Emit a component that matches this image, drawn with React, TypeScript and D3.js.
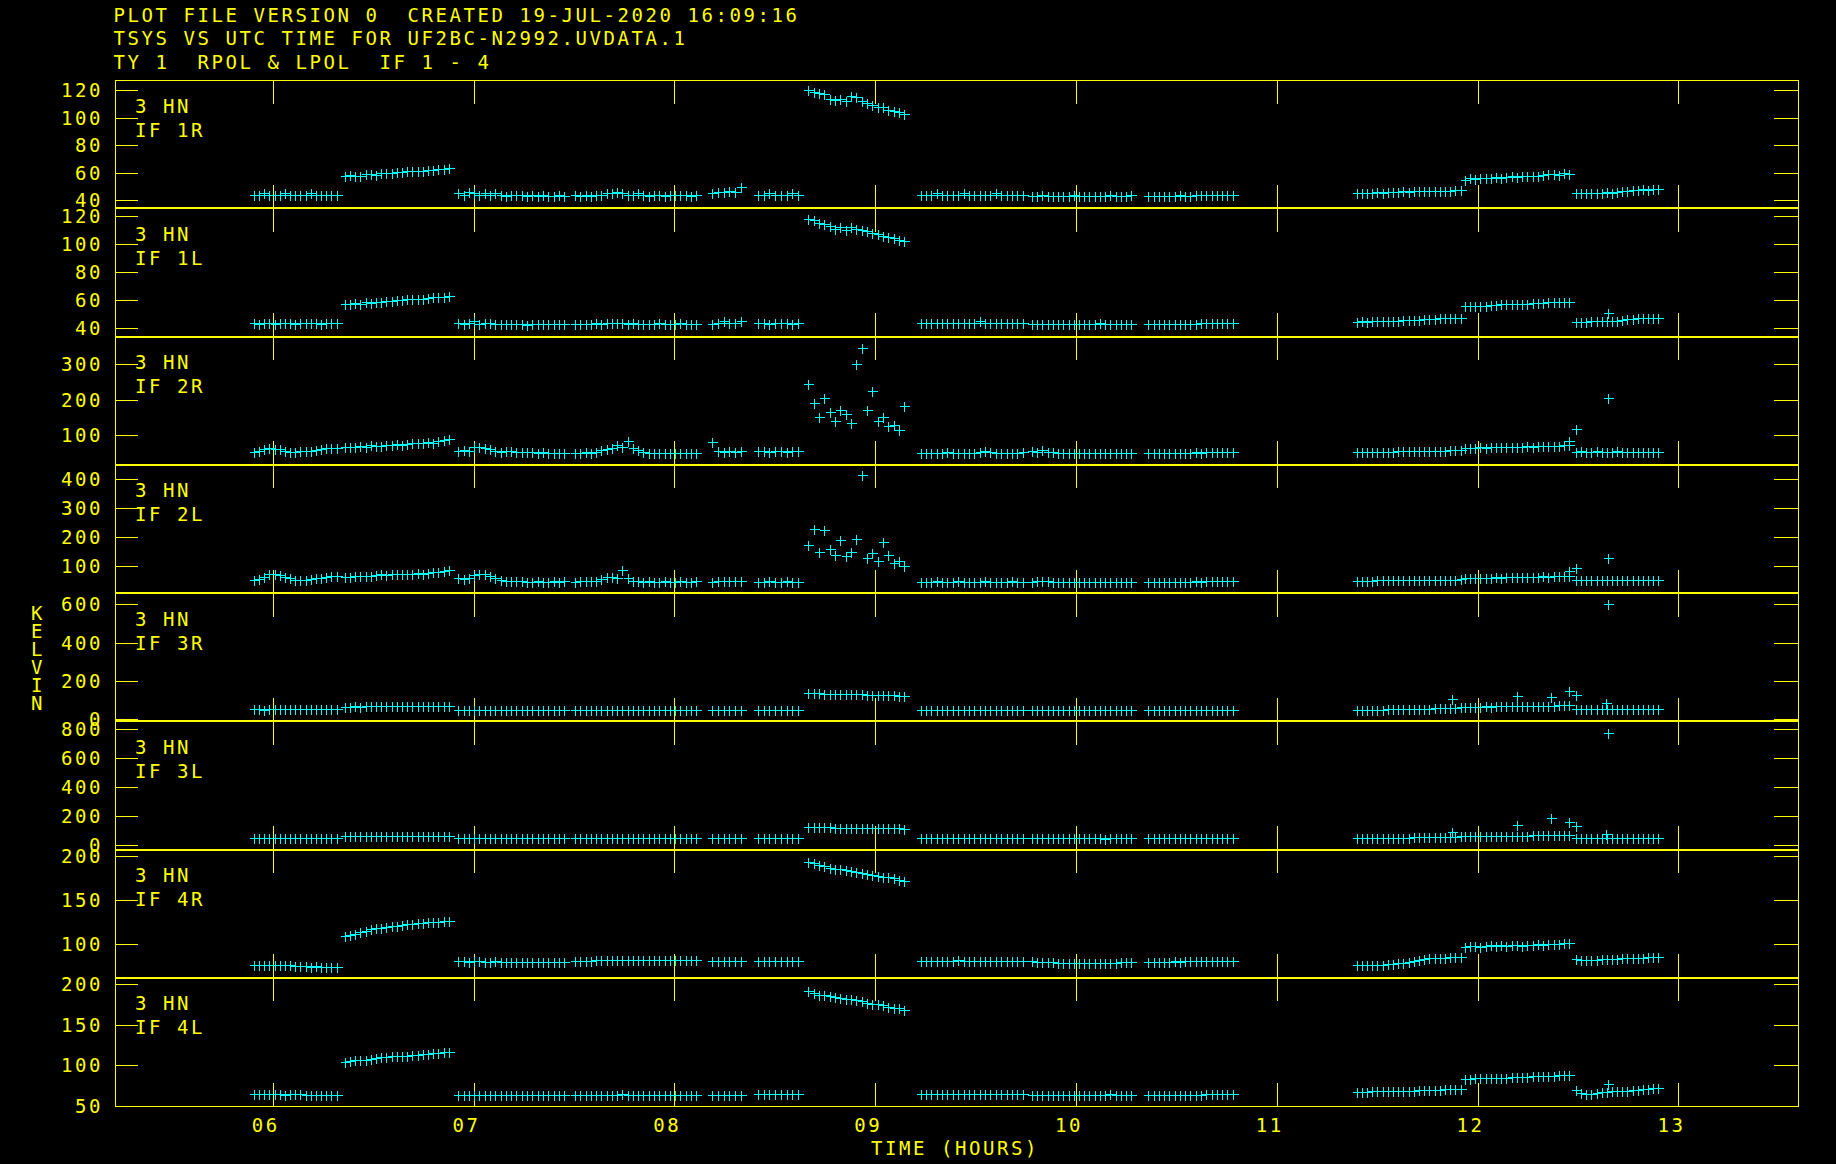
import * as d3 from "d3";
import React, { useEffect } from "react";

// AIPS style TSYS vs time plot, 8 stacked panels
const W = 1836;
const H = 1164;
const YELLOW = "#ffff00";
const CYAN = "#00ffff";
const FONT = "'DejaVu Sans Mono', monospace";

const headerLines = [
  "PLOT FILE VERSION 0  CREATED 19-JUL-2020 16:09:16",
  "TSYS VS UTC TIME FOR UF2BC-N2992.UVDATA.1",
  "TY 1  RPOL & LPOL  IF 1 - 4",
];

const hourTicks = [6, 7, 8, 9, 10, 11, 12, 13];
const hourLabels = ["06", "07", "08", "09", "10", "11", "12", "13"];
const timeDomain: [number, number] = [5.212, 13.593];

// scan start / end (hours) of the Tsys records
const scanTimes: [number, number][] = [
  [5.906, 6.318], [6.359, 6.877], [6.924, 7.451], [7.506, 8.108],
  [8.188, 8.33], [8.416, 8.617], [8.667, 9.145], [9.226, 9.735],
  [9.78, 10.276], [10.36, 10.78], [11.397, 11.915], [11.935, 12.457],
  [12.49, 12.9],
];

const panelNames = ["IF 1R", "IF 1L", "IF 2R", "IF 2L", "IF 3R", "IF 3L", "IF 4R", "IF 4L"];
const panelDomains: [number, number][] = [
  [34.2, 127.5], [34.1, 125.5], [17, 378], [8, 450],
  [-10, 659], [-29, 856], [62, 207.7], [50, 207.7],
];
const panelTicks = [
  [40, 60, 80, 100, 120], [40, 60, 80, 100, 120], [100, 200, 300], [100, 200, 300, 400],
  [0, 200, 400, 600], [0, 200, 400, 600, 800], [100, 150, 200], [50, 100, 150, 200],
];

// values per scan
const if1r = [
  [44, 44, 45, 44, 44, 44, 45, 44, 44, 44, 44, 45, 44, 44, 44, 44, 44],
  [58, 58.5, 58, 57.5, 59, 59, 58.5, 59.5, 60, 60, 60.5, 60.5, 61, 61, 61.5, 61.5, 62, 62, 62.5, 63, 63.5],
  [45, 44, 46, 45, 44, 45, 44, 45, 44, 43, 44, 44, 44, 43, 44, 43, 44, 43, 43, 44, 43],
  [44, 43, 44, 43, 44, 44, 45, 45, 46, 45, 44, 44, 45, 44, 43, 44, 44, 43, 44, 44, 44, 44, 43, 44],
  [45, 46, 46, 47, 46, 50],
  [44, 44, 45, 44, 44, 44, 45, 44],
  [120, 119, 118, 117, 114, 113, 114, 112, 116, 115, 112, 111, 109, 108, 108, 106, 105, 104, 103],
  [44, 44, 44, 45, 44, 44, 44, 44, 45, 44, 44, 44, 44, 44, 45, 44, 44, 44, 44, 44],
  [43, 43, 44, 43, 43, 43, 43, 43, 44, 43, 43, 43, 43, 43, 43, 44, 43, 43, 43, 44],
  [43, 43, 43, 43, 43, 43, 44, 43, 43, 44, 44, 44, 44, 44, 44, 44, 44],
  [45, 45.5, 45, 45.5, 46, 45.5, 46, 46, 46, 46.5, 46, 46.5, 46.5, 46.5, 47, 46.5, 47, 47, 47, 47.5, 47.5],
  [55, 56, 55.5, 56, 56.5, 56, 57, 56.5, 57, 57.5, 57, 58, 58, 57.5, 58, 58.5, 59, 59, 58.5, 59.5, 59],
  [45, 45, 45.5, 45, 45, 45.5, 46, 45.5, 46, 47, 47, 47.5, 47.5, 48, 47.5, 48, 48],
];
const if1l = [
  [44, 43, 44, 44, 43, 44, 44, 44, 43, 44, 44, 44, 44, 43, 44, 44, 44],
  [57.5, 57.5, 58, 57, 58.5, 58, 59, 59, 59.5, 59.5, 60, 60, 60.5, 60.5, 61, 61, 61.5, 62, 62, 62.5, 63],
  [44, 43, 44, 45, 43, 44, 44, 43, 43, 43, 43, 43, 43, 42, 43, 43, 43, 43, 43, 43, 43],
  [43, 43, 43, 43, 44, 43, 44, 44, 44, 44, 43, 44, 43, 43, 43, 43, 44, 43, 43, 43, 44, 43, 43, 43],
  [43, 44, 45, 44, 44, 45],
  [44, 44, 43, 44, 44, 44, 43, 44],
  [118, 117, 115, 114, 113, 111, 112, 110, 112, 111, 110, 109, 108, 107, 106, 105, 104, 103, 102],
  [44, 44, 44, 44, 44, 44, 44, 44, 44, 44, 44, 45, 44, 44, 44, 44, 44, 44, 44, 44],
  [43, 43, 43, 43, 43, 43, 43, 43, 43, 43, 43, 43, 43, 44, 43, 43, 43, 43, 43, 43],
  [43, 43, 43, 43, 43, 43, 43, 43, 43, 43, 44, 44, 44, 44, 44, 44, 44],
  [44.5, 45, 44.5, 45, 45, 45, 45.5, 45.5, 45.5, 46, 46, 46, 46, 46.5, 46.5, 46.5, 47, 47, 47, 47, 47],
  [55.5, 55.5, 56, 56, 56, 56.5, 56.5, 57, 57, 57, 57, 57.5, 57.5, 58, 58, 58, 58.5, 58.5, 58.5, 58.5, 59],
  [44.5, 44.5, 44.5, 45, 45, 45, 45, 45.5, 45.5, 46, 46.5, 46.5, 47, 47, 47, 47.5, 47.5],
];
const if2r = [
  [54, 55, 60, 63, 62, 60, 56, 53, 54, 55, 56, 57, 58, 60, 63, 65, 64],
  [66, 67, 68, 70, 68, 72, 70, 69, 74, 73, 76, 72, 75, 78, 77, 79, 80, 78, 84, 88, 90],
  [56, 58, 55, 68, 66, 64, 60, 56, 54, 55, 56, 54, 52, 53, 52, 51, 52, 50, 51, 50, 51],
  [50, 51, 52, 50, 53, 58, 60, 64, 72, 67, 84, 65, 58, 52, 50, 50, 51, 49, 50, 51, 50, 49, 50, 50],
  [80, 56, 54, 55, 54, 55],
  [55, 55, 54, 55, 55, 54, 55, 55],
  [244, 190, 150, 205, 165, 140, 170, 160, 135, 300, 347, 170, 225, 140, 150, 125, 130, 115, 183],
  [50, 51, 50, 51, 50, 52, 51, 50, 51, 50, 51, 52, 55, 53, 51, 50, 51, 50, 51, 52],
  [55, 52, 58, 54, 52, 51, 50, 51, 50, 50, 50, 50, 51, 50, 50, 50, 51, 50, 50, 50],
  [50, 50, 50, 50, 50, 51, 50, 50, 51, 52, 51, 52, 52, 53, 53, 53, 54],
  [52, 52, 53, 53, 53, 54, 54, 54, 55, 55, 55, 55, 56, 56, 56, 57, 57, 57, 58, 58, 58],
  [64, 65, 64, 66, 65, 66, 67, 66, 67, 67, 68, 68, 69, 68, 69, 70, 70, 71, 71, 72, 73],
  [54, 55, 53, 54, 55, 54, 54, 54, 55, 54, 54, 54, 54, 54, 53, 54, 54],
];
const if2l = [
  [54, 55, 62, 72, 74, 70, 64, 60, 54, 53, 54, 56, 58, 60, 64, 66, 68],
  [62, 64, 65, 66, 68, 66, 70, 72, 70, 74, 72, 73, 75, 74, 76, 75, 78, 80, 80, 84, 86],
  [58, 56, 60, 70, 72, 74, 66, 60, 54, 50, 49, 48, 48, 47, 47, 48, 47, 47, 48, 47, 48],
  [47, 48, 48, 49, 50, 56, 62, 64, 60, 86, 58, 50, 48, 47, 48, 47, 47, 48, 47, 47, 48, 47, 47, 48],
  [47, 49, 48, 50, 48, 49],
  [47, 47, 48, 47, 47, 48, 47, 47],
  [172, 228, 150, 225, 160, 140, 189, 135, 150, 194, 413, 130, 145, 120, 185, 140, 110, 120, 101],
  [47, 47, 47, 48, 47, 47, 47, 48, 47, 47, 47, 47, 48, 47, 47, 47, 47, 48, 47, 47],
  [47, 48, 50, 48, 47, 47, 47, 47, 47, 47, 47, 47, 47, 47, 47, 47, 47, 47, 47, 47],
  [47, 47, 47, 47, 47, 47, 47, 47, 47, 48, 47, 48, 48, 48, 48, 48, 48],
  [50, 51, 51, 51, 52, 52, 52, 53, 52, 53, 53, 53, 53, 53, 54, 54, 53, 54, 54, 54, 55],
  [58, 60, 59, 61, 60, 61, 62, 61, 62, 63, 62, 64, 63, 63, 64, 65, 64, 65, 66, 67, 68],
  [52, 53, 54, 52, 53, 53, 53, 54, 53, 53, 53, 53, 53, 53, 53, 53, 53],
];
const if3r = [
  [52, 52, 51, 52, 52, 53, 52, 52, 52, 52, 53, 52, 52, 52, 52, 52, 52],
  [66, 66, 67, 66, 67, 67, 68, 67, 68, 68, 68, 69, 68, 69, 69, 69, 70, 69, 70, 70, 70],
  [51, 51, 50, 51, 51, 50, 50, 50, 50, 50, 50, 50, 50, 51, 50, 50, 50, 50, 50, 50, 50],
  [50, 50, 50, 50, 51, 50, 50, 51, 51, 50, 51, 51, 50, 50, 50, 50, 50, 50, 51, 50, 50, 50, 50, 50],
  [50, 50, 51, 50, 50, 50],
  [50, 50, 50, 50, 51, 50, 50, 50],
  [136, 135, 135, 134, 133, 133, 132, 131, 131, 130, 130, 129, 128, 128, 127, 126, 125, 124, 123],
  [50, 50, 50, 50, 50, 50, 50, 50, 51, 50, 50, 50, 50, 51, 50, 50, 50, 50, 50, 50],
  [50, 50, 50, 51, 50, 50, 50, 50, 50, 50, 49, 50, 50, 50, 50, 50, 50, 50, 50, 50],
  [50, 50, 49, 50, 50, 50, 50, 50, 50, 50, 50, 50, 51, 50, 50, 50, 50],
  [48, 48, 49, 49, 50, 50, 52, 53, 52, 52, 54, 55, 54, 56, 56, 57, 58, 58, 60, 60, 62],
  [64, 65, 66, 66, 67, 66, 68, 67, 68, 68, 69, 70, 69, 70, 71, 70, 72, 72, 73, 74, 75],
  [56, 54, 52, 52, 53, 52, 52, 52, 52, 53, 52, 52, 52, 52, 52, 52, 52],
];
const if3l = [
  [48, 48, 48, 48, 49, 48, 48, 48, 48, 48, 49, 48, 48, 48, 48, 48, 48],
  [62, 62, 63, 63, 63, 64, 63, 64, 64, 64, 65, 64, 65, 65, 65, 66, 65, 66, 66, 66, 66],
  [47, 47, 47, 47, 47, 48, 47, 47, 47, 47, 47, 47, 47, 47, 47, 47, 47, 47, 47, 47, 47],
  [47, 47, 47, 47, 47, 47, 48, 47, 47, 47, 47, 47, 47, 47, 48, 47, 47, 47, 47, 47, 47, 47, 47, 47],
  [47, 47, 48, 47, 47, 47],
  [47, 47, 47, 47, 47, 47, 47, 47],
  [125, 124, 124, 123, 123, 122, 122, 121, 121, 120, 120, 119, 119, 118, 118, 117, 117, 116, 115],
  [47, 47, 47, 47, 47, 47, 47, 48, 47, 47, 47, 47, 47, 47, 47, 48, 47, 47, 47, 47],
  [47, 47, 47, 47, 47, 47, 47, 47, 47, 47, 47, 47, 47, 47, 46, 47, 47, 47, 47, 47],
  [47, 47, 47, 47, 47, 47, 47, 47, 47, 47, 47, 47, 47, 47, 48, 47, 47],
  [48, 48, 49, 49, 50, 50, 51, 52, 52, 52, 53, 54, 54, 55, 56, 56, 57, 58, 59, 60, 62],
  [62, 63, 63, 64, 64, 64, 65, 65, 66, 66, 66, 67, 67, 68, 68, 69, 69, 70, 70, 71, 72],
  [50, 49, 48, 48, 48, 48, 48, 48, 48, 48, 48, 48, 48, 48, 48, 48, 48],
];
const if4r = [
  [77, 77, 76, 77, 76, 77, 76, 76, 75, 75, 75, 74, 75, 74, 74, 74, 74],
  [109, 110, 112, 114, 115, 117, 118, 119, 120, 121, 121, 122, 123, 123, 124, 124, 125, 125, 125, 126, 126],
  [81, 81, 80, 81, 81, 80, 80, 81, 80, 80, 80, 80, 80, 80, 80, 80, 80, 80, 80, 80, 80],
  [81, 81, 81, 81, 82, 82, 82, 82, 82, 82, 82, 82, 82, 82, 82, 82, 82, 82, 82, 82, 82, 82, 82, 82],
  [81, 81, 81, 81, 81, 81],
  [81, 81, 81, 81, 81, 81, 81, 81],
  [194, 192, 190, 189, 187, 186, 185, 184, 183, 182, 181, 180, 179, 178, 177, 176, 175, 173, 172],
  [81, 81, 81, 81, 81, 81, 81, 82, 81, 81, 81, 81, 81, 81, 81, 81, 81, 81, 81, 81],
  [81, 80, 80, 80, 80, 79, 79, 79, 79, 79, 79, 79, 79, 79, 79, 79, 79, 80, 80, 80],
  [80, 80, 80, 80, 80, 81, 80, 81, 81, 81, 81, 81, 81, 81, 81, 81, 81],
  [76, 76, 76, 77, 77, 77, 78, 78, 79, 79, 80, 81, 82, 83, 84, 84, 85, 85, 86, 86, 86],
  [97, 98, 98, 97, 98, 99, 98, 99, 98, 99, 99, 98, 99, 99, 100, 99, 100, 100, 100, 101, 101],
  [83, 82, 82, 82, 82, 83, 83, 83, 83, 84, 84, 85, 85, 85, 86, 86, 86],
];
const if4l = [
  [65, 65, 65, 65, 65, 65, 64, 65, 65, 65, 64, 64, 64, 64, 64, 64, 64],
  [104, 105, 106, 107, 107, 108, 109, 110, 110, 111, 111, 112, 112, 113, 113, 114, 114, 115, 115, 116, 116],
  [64, 64, 64, 64, 64, 64, 64, 63, 63, 63, 63, 63, 63, 63, 63, 64, 64, 64, 64, 64, 64],
  [64, 64, 64, 64, 64, 64, 64, 64, 64, 65, 64, 64, 64, 64, 64, 64, 64, 64, 64, 64, 64, 64, 64, 64],
  [64, 64, 64, 64, 64, 64],
  [65, 65, 65, 65, 65, 65, 65, 65],
  [191, 189, 187, 186, 185, 184, 183, 182, 181, 180, 179, 177, 176, 175, 174, 172, 171, 170, 168],
  [65, 65, 65, 65, 65, 65, 65, 65, 65, 65, 65, 65, 65, 65, 65, 65, 65, 65, 65, 65],
  [64, 64, 64, 64, 64, 64, 64, 64, 64, 64, 64, 64, 64, 64, 64, 65, 64, 64, 64, 64],
  [64, 64, 64, 64, 64, 64, 64, 64, 64, 64, 64, 65, 65, 65, 65, 65, 65],
  [67, 67, 67, 68, 68, 68, 68, 69, 69, 69, 69, 69, 70, 70, 70, 70, 70, 71, 71, 71, 71],
  [83, 83, 84, 84, 84, 85, 85, 85, 85, 86, 86, 86, 86, 87, 87, 87, 87, 87, 88, 88, 88],
  [70, 66, 65, 65, 66, 67, 67, 68, 68, 69, 69, 70, 70, 71, 71, 72, 72],
];
const panelValues = [if1r, if1l, if2r, if2l, if3r, if3l, if4r, if4l];

// isolated records [hour, kelvin]
const extra1r: [number, number][] = [];
const extra1l: [number, number][] = [[12.647, 51]];
const extra2r: [number, number][] = [[12.455, 84], [12.492, 117], [12.647, 204]];
const extra2l: [number, number][] = [[12.455, 84], [12.492, 93], [12.647, 130]];
const extra3r: [number, number][] = [[11.874, 106], [12.198, 121], [12.364, 118], [12.455, 149], [12.492, 127], [12.638, 83], [12.647, 600]];
const extra3l: [number, number][] = [[11.874, 94], [12.198, 140], [12.364, 190], [12.455, 163], [12.492, 135], [12.638, 78], [12.647, 777]];
const extra4r: [number, number][] = [];
const extra4l: [number, number][] = [[12.647, 77]];
const panelExtras = [extra1r, extra1l, extra2r, extra2l, extra3r, extra3l, extra4r, extra4l];

const frame = { left: 114.5, right: 1797.5, top: 80, bottom: 1106 };
const nPanels = 8;
const ph = (frame.bottom - frame.top) / nPanels;
const tickLen = 23.5;
const arm = 5;

const App: React.FC = () => {
  useEffect(() => {
    document.body.style.margin = "0";
    document.body.style.background = "#000";
  }, []);

  const x = d3.scaleLinear().domain(timeDomain).range([frame.left, frame.right]);
  const px = (v: number) => Math.round(v) + 0.5;

  const txt = {
    fill: YELLOW,
    fontFamily: FONT,
    fontSize: 19,
    letterSpacing: 2.56,
    style: { whiteSpace: "pre" as const },
  };

  const panels = panelNames.map((name, p) => {
    const top = frame.top + p * ph;
    const y = d3.scaleLinear().domain(panelDomains[p]).range([top + ph, top]);
    const pts: [number, number][] = [];
    panelValues[p].forEach((vals, i) => {
      const [t0, t1] = scanTimes[i];
      const step = vals.length > 1 ? (t1 - t0) / (vals.length - 1) : 0;
      vals.forEach((v, j) => pts.push([t0 + j * step, v]));
    });
    panelExtras[p].forEach((d) => pts.push(d));
    const path = pts
      .map(([t, v]) => {
        const cx = px(x(t));
        const cy = px(y(v));
        return `M${cx - arm},${cy}h${arm * 2}M${cx},${cy - arm}v${arm * 2}`;
      })
      .join("");
    return (
      <g key={name}>
        {panelTicks[p].map((v) => (
          <g key={v}>
            <line x1={frame.left} x2={frame.left + tickLen} y1={px(y(v))} y2={px(y(v))} stroke={YELLOW} />
            <line x1={frame.right - tickLen} x2={frame.right} y1={px(y(v))} y2={px(y(v))} stroke={YELLOW} />
            <text x={103} y={y(v) + 7} textAnchor="end" {...txt}>{v}</text>
          </g>
        ))}
        {hourTicks.map((h) => (
          <g key={h}>
            <line x1={px(x(h))} x2={px(x(h))} y1={top} y2={top + tickLen} stroke={YELLOW} />
            <line x1={px(x(h))} x2={px(x(h))} y1={top + ph - tickLen} y2={top + ph} stroke={YELLOW} />
          </g>
        ))}
        <text x={135} y={top + 32.5} {...txt}>3 HN</text>
        <text x={135} y={top + 56.5} {...txt}>{name}</text>
        <path d={path} stroke={CYAN} strokeWidth={1} fill="none" />
      </g>
    );
  });

  return (
    <svg
      width={W}
      height={H}
      style={{ position: "absolute", left: 0, top: 0, background: "#000", display: "block" }}
      shapeRendering="crispEdges"
    >
      <rect x={0} y={0} width={W} height={H} fill="#000" />
      {headerLines.map((s, i) => (
        <text key={i} x={113.5} y={21.7 + i * 23.7} {...txt}>{s}</text>
      ))}
      <rect
        x={px(frame.left)}
        y={px(frame.top)}
        width={Math.round(frame.right - frame.left)}
        height={Math.round(frame.bottom - frame.top)}
        fill="none"
        stroke={YELLOW}
      />
      {d3.range(1, nPanels).map((i) => (
        <line key={i} x1={frame.left} x2={frame.right} y1={frame.top + i * ph} y2={frame.top + i * ph} stroke={YELLOW} strokeWidth={2} />
      ))}
      {panels}
      {hourTicks.map((h, i) => (
        <text key={h} x={x(h) - 21} y={1131.7} {...txt}>{hourLabels[i]}</text>
      ))}
      <text x={871} y={1155} {...txt}>TIME (HOURS)</text>
      {"KELVIN".split("").map((c, i) => (
        <text key={i} x={36.7} y={612.7 + i * 18 + 7} textAnchor="middle" fill={YELLOW} fontFamily={FONT} fontSize={19}>
          {c}
        </text>
      ))}
    </svg>
  );
};

export default App;
